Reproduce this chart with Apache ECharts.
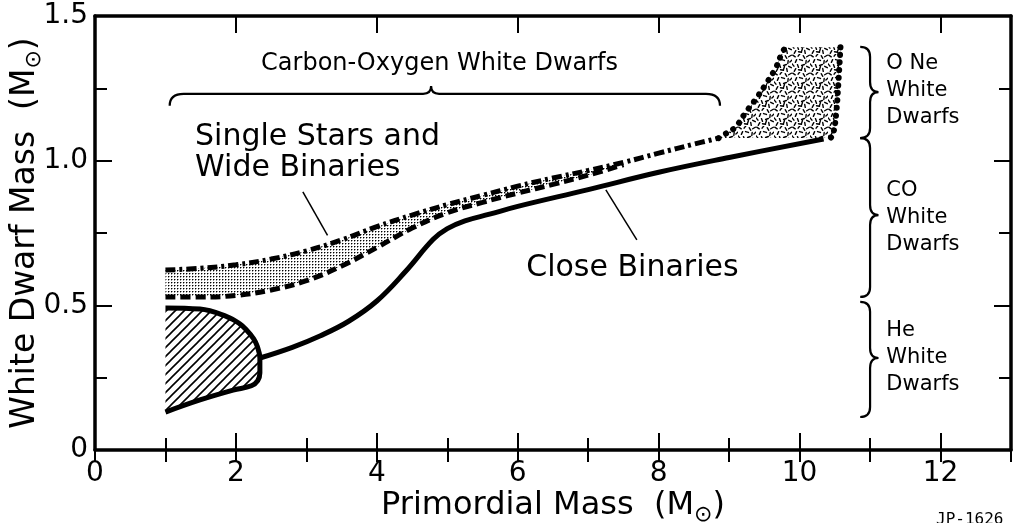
<!DOCTYPE html>
<html>
<head>
<meta charset="utf-8">
<script src="https://cdn.jsdelivr.net/npm/echarts@6/dist/echarts.min.js"></script>
<style>
  html, body { margin: 0; background: #fff; }
  #chart { width: 1022px; height: 523px; }
</style>
</head>
<body>
<div id="chart"></div>
<script>
// curves, as [primordial mass, white dwarf mass]
// single stars & wide binaries, upper edge (dash-dot)
const singleUpper = [
  [1.0, 0.622], [1.5, 0.628], [2.0, 0.640], [2.5, 0.660], [3.0, 0.688],
  [3.5, 0.726], [4.0, 0.772], [4.5, 0.812], [5.0, 0.848], [5.5, 0.880],
  [6.0, 0.912], [6.5, 0.940], [7.0, 0.966], [7.5, 0.994], [8.0, 1.026],
  [8.5, 1.057], [8.85, 1.078]
];
// single stars & wide binaries, lower edge (dashed)
const singleLower = [
  [1.0, 0.529], [1.5, 0.529], [2.0, 0.534], [2.5, 0.553], [3.0, 0.585],
  [3.5, 0.636], [4.0, 0.700], [4.5, 0.767], [5.0, 0.820], [5.5, 0.856],
  [6.0, 0.888], [6.5, 0.918], [7.0, 0.950], [7.5, 0.986]
];
// close binaries (solid)
const closeBinaries = [
  [2.34, 0.318], [2.8, 0.355], [3.2, 0.395], [3.6, 0.445], [4.0, 0.515],
  [4.4, 0.615], [4.8, 0.728], [5.0, 0.765], [5.25, 0.792], [5.6, 0.815],
  [6.0, 0.842], [7.0, 0.900], [8.0, 0.960], [9.0, 1.011], [10.34, 1.075]
];
// helium white dwarf region outline (hatched)
const heRegion = [
  [1.0, 0.491], [1.49, 0.487], [1.87, 0.461], [2.05, 0.437], [2.15, 0.415],
  [2.25, 0.385], [2.30, 0.360], [2.34, 0.318], [2.34, 0.266], [2.31, 0.240],
  [2.22, 0.222], [1.96, 0.207], [1.49, 0.173], [1.0, 0.131]
];
// O-Ne region edges (dotted)
const oneLeftEdge = [
  [8.85, 1.078], [8.97, 1.096], [9.09, 1.116], [9.23, 1.165], [9.39, 1.217],
  [9.53, 1.268], [9.66, 1.320], [9.75, 1.372], [9.80, 1.392]
];
const oneRightEdge = [
  [10.58, 1.392], [10.55, 1.268], [10.52, 1.165], [10.48, 1.096], [10.44, 1.078]
];
// leader lines from the labels
const singleLeader = [[2.95, 0.892], [3.30, 0.742]];
const closeLeader = [[7.25, 0.899], [7.69, 0.726]];

// tick labels
const xTickLabels = ['0', '2', '4', '6', '8', '10', '12'];
const yTickLabels = ['0', '0.5', '1.0', '1.5'];

const FONT = 'DejaVu Sans';

// annotation layout (data coordinates)
const notes = [
  { text: 'Carbon-Oxygen White Dwarfs', at: [4.89, 1.334], size: 24, align: 'center' },
  { text: 'Single Stars and', at: [1.42, 1.080], size: 30, align: 'left' },
  { text: 'Wide Binaries', at: [1.42, 0.973], size: 30, align: 'left' },
  { text: 'Close Binaries', at: [6.12, 0.629], size: 30, align: 'left' },
  { text: 'O Ne\nWhite\nDwarfs', at: [11.23, 1.244], size: 21, align: 'left' },
  { text: 'CO\nWhite\nDwarfs', at: [11.23, 0.802], size: 21, align: 'left' },
  { text: 'He\nWhite\nDwarfs', at: [11.23, 0.318], size: 21, align: 'left' }
];
const topBrace = { from: 1.06, to: 8.87, tip: 4.77, line: 1.231, end: 1.19, peak: 1.258 };
const sideBraces = [
  { top: 1.393, bottom: 1.078, tip: 1.237 },
  { top: 1.078, bottom: 0.529, tip: 0.812 },
  { top: 0.512, bottom: 0.114, tip: 0.318 }
];
const sideBraceX = { end: 10.86, line: 11.0, tip: 11.12 };

// fill textures
function makeTile(w, h, draw) {
  const c = document.createElement('canvas');
  c.width = w; c.height = h;
  draw(c.getContext('2d'));
  return { type: 'pattern', image: c, repeat: 'repeat' };
}
const stipple = makeTile(3, 3, ctx => {
  ctx.fillStyle = '#000'; ctx.fillRect(0, 0, 1, 1);
  ctx.fillStyle = '#999'; ctx.fillRect(1, 0, 1, 1); ctx.fillRect(0, 1, 1, 1);
});
const hatch = makeTile(9, 9, ctx => {
  ctx.strokeStyle = '#000'; ctx.lineWidth = 1.6;
  ctx.beginPath();
  ctx.moveTo(-1, 10); ctx.lineTo(10, -1);
  ctx.moveTo(-1, 1); ctx.lineTo(1, -1);
  ctx.moveTo(8, 10); ctx.lineTo(10, 8);
  ctx.stroke();
});
const speckle = makeTile(18, 18, ctx => {
  const bits = [[2,2,0.6],[7,1,2.2],[12,3,1.0],[16,2,2.6],[4,7,2.0],[9,6,0.3],[14,8,1.7],
    [1,11,0.9],[6,12,1.2],[11,11,2.8],[16,13,0.5],[3,16,2.1],[8,16,0.2],[13,16,1.4],[17,7,2.4],[10,14,1.9]];
  ctx.strokeStyle = '#000'; ctx.lineWidth = 1.4; ctx.lineCap = 'round';
  ctx.beginPath();
  bits.forEach(([x, y, a]) => {
    ctx.moveTo(x - 1.5 * Math.cos(a), y - 1.5 * Math.sin(a));
    ctx.lineTo(x + 1.5 * Math.cos(a), y + 1.5 * Math.sin(a));
  });
  ctx.stroke();
});

function fillSeries(points, fill) {
  return {
    type: 'custom', silent: true, z: 1,
    data: [[0, 0]],
    renderItem: (params, api) => ({
      type: 'polygon',
      shape: { points: points.map(p => api.coord(p)) },
      style: { fill: fill, stroke: null }
    })
  };
}

function lineSeries(data, width, type, cap) {
  return {
    type: 'line', data: data, showSymbol: false, smooth: 0.4, z: 3, silent: true,
    lineStyle: { color: '#000', width: width, type: type || 'solid', cap: cap || 'butt' }
  };
}

const band = singleUpper.filter(p => p[0] <= 7.5).concat(singleLower.slice().reverse());
const oneRegion = oneLeftEdge.concat(oneRightEdge);

function noteSeries() {
  return {
    type: 'custom', silent: true, z: 4,
    data: [[0, 0]],
    renderItem: (params, api) => {
      const kids = [];
      notes.forEach(n => {
        const p = api.coord(n.at);
        kids.push({
          type: 'text', x: p[0], y: p[1],
          style: {
            text: n.text, fill: '#000', fontFamily: FONT, fontSize: n.size,
            lineHeight: 27, align: n.align, verticalAlign: 'middle'
          }
        });
      });
      // horizontal brace under the CO label
      const l = api.coord([topBrace.from, topBrace.line]);
      const r = api.coord([topBrace.to, topBrace.line]);
      const t = api.coord([topBrace.tip, topBrace.peak]);
      const ye = api.coord([0, topBrace.end])[1];
      const yl = l[1], h = 14, k = 8;
      const d1 = `M${l[0]},${ye} Q${l[0]},${yl} ${l[0] + h},${yl} L${t[0] - k},${yl} ` +
        `Q${t[0]},${yl} ${t[0]},${t[1]} Q${t[0]},${yl} ${t[0] + k},${yl} ` +
        `L${r[0] - h},${yl} Q${r[0]},${yl} ${r[0]},${ye}`;
      kids.push({ type: 'path', shape: { pathData: d1 }, style: { stroke: '#000', lineWidth: 2.2, fill: null } });
      // vertical braces on the right
      const xe = api.coord([sideBraceX.end, 0])[0];
      const xl = api.coord([sideBraceX.line, 0])[0];
      const xt = api.coord([sideBraceX.tip, 0])[0];
      sideBraces.forEach(b => {
        const ty = api.coord([0, b.top])[1];
        const by = api.coord([0, b.bottom])[1];
        const my = api.coord([0, b.tip])[1];
        const v = 10;
        const d = `M${xe},${ty} Q${xl},${ty} ${xl},${ty + v} L${xl},${my - v} ` +
          `Q${xl},${my} ${xt},${my} Q${xl},${my} ${xl},${my + v} ` +
          `L${xl},${by - v} Q${xl},${by} ${xe},${by}`;
        kids.push({ type: 'path', shape: { pathData: d }, style: { stroke: '#000', lineWidth: 2.2, fill: null } });
      });
      return { type: 'group', children: kids };
    }
  };
}

const axisLine = { show: true, onZero: false, lineStyle: { color: '#000', width: 3.5 } };
const tickStyle = { color: '#000', width: 2 };

function xAxisCfg(position, interval, len, labels) {
  return {
    type: 'value', position: position, min: 0, max: 13, interval: interval,
    axisLine: interval === 2 ? axisLine : { show: false },
    axisTick: { show: true, inside: true, length: len, lineStyle: tickStyle },
    splitLine: { show: false },
    axisLabel: labels ? {
      show: true, margin: 10, color: '#000', fontFamily: FONT, fontSize: 28,
      formatter: v => xTickLabels[v / 2] || ''
    } : { show: false }
  };
}
function yAxisCfg(position, labels) {
  return {
    type: 'value', position: position, min: 0, max: 1.5, interval: 0.5,
    axisLine: axisLine,
    axisTick: { show: true, inside: true, length: 17, lineStyle: tickStyle },
    minorTick: { show: true, splitNumber: 2, length: 12, lineStyle: tickStyle },
    splitLine: { show: false },
    axisLabel: labels ? {
      show: true, margin: 7, color: '#000', fontFamily: FONT, fontSize: 28,
      formatter: v => yTickLabels[Math.round(v / 0.5)]
    } : { show: false }
  };
}

const nameRich = {
  s: { fontFamily: FONT, fontSize: 22, lineHeight: 19, verticalAlign: 'bottom', color: '#000' }
};

const xMain = xAxisCfg('bottom', 2, 17, true);
Object.assign(xMain, {
  name: 'Primordial Mass  (M{s|⊙})', nameLocation: 'middle', nameGap: 36, nameMoveOverlap: false,
  nameTextStyle: { color: '#000', fontFamily: FONT, fontSize: 32, lineHeight: 40, rich: nameRich }
});
const yMain = yAxisCfg('left', true);
Object.assign(yMain, {
  name: 'White Dwarf Mass  (M{s|⊙})', nameLocation: 'middle', nameGap: 50, nameMoveOverlap: false,
  nameTextStyle: { color: '#000', fontFamily: FONT, fontSize: 33, lineHeight: 40, rich: nameRich }
});

const chart = echarts.init(document.getElementById('chart'));
chart.setOption({
  animation: false,
  backgroundColor: '#fff',
  grid: { left: 95, right: 11, top: 16, bottom: 73, outerBoundsMode: 'none', containLabel: false },
  xAxis: [
    xMain,
    xAxisCfg('bottom', 1, 12, false),
    xAxisCfg('top', 2, 17, false),
    xAxisCfg('top', 1, 12, false)
  ],
  yAxis: [yMain, yAxisCfg('right', false)],
  graphic: [{
    type: 'text', left: 936, top: 512,
    style: { text: 'JP-1626', fill: '#000', font: '16px "DejaVu Sans Mono"' }
  }],
  series: [
    fillSeries(band, stipple),
    fillSeries(heRegion, hatch),
    fillSeries(oneRegion, speckle),
    lineSeries(singleUpper, 5, [10, 4, 3, 4]),
    lineSeries(singleLower, 5, [10, 5]),
    lineSeries(closeBinaries, 5),
    lineSeries(heRegion, 5),
    lineSeries(oneLeftEdge, 6, [0.1, 8.5], 'round'),
    lineSeries(oneRightEdge, 6, [0.1, 7.5], 'round'),
    lineSeries(singleLeader, 1.5),
    lineSeries(closeLeader, 1.5),
    noteSeries()
  ]
});
</script>
</body>
</html>
